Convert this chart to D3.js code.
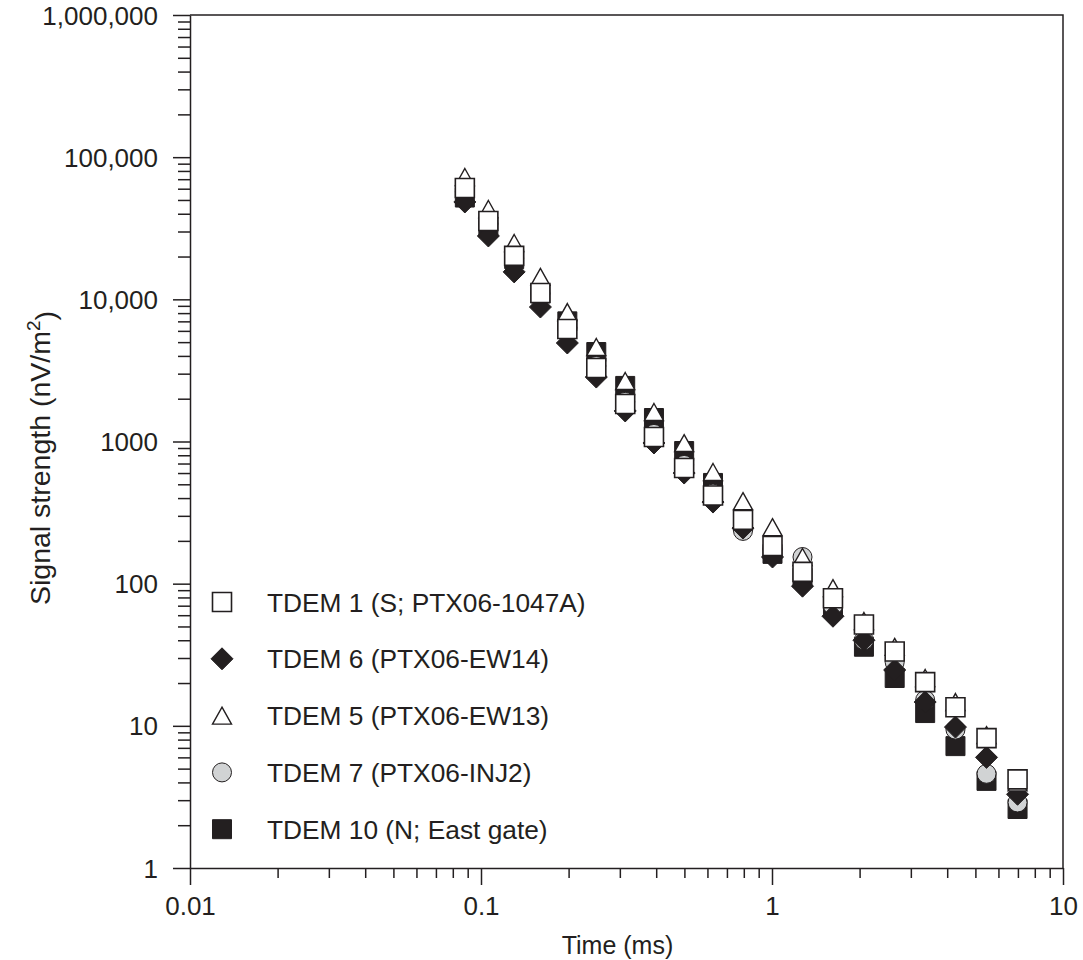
<!DOCTYPE html>
<html>
<head>
<meta charset="utf-8">
<script src="https://cdnjs.cloudflare.com/ajax/libs/d3/7.8.5/d3.min.js"></script>
<style>
  html, body { margin: 0; padding: 0; background: #fff; }
  svg { display: block; font-family: "Liberation Sans", Arial, Helvetica, sans-serif; }
</style>
</head>
<body>
<svg id="chart" width="1083" height="960"></svg>
<script>
// ---- data ----
const times = [0.088, 0.106, 0.130, 0.160, 0.198, 0.249, 0.313, 0.393, 0.499, 0.627,
               0.795, 1.004, 1.273, 1.62, 2.07, 2.64, 3.36, 4.27, 5.46, 6.98];
const tdem1  = [60700, 35600, 20200, 11070, 6190, 3290, 1835, 1075, 651, 417,
                281, 184, 121, 79, 51.6, 33.3, 20.3, 13.5, 8.2, 4.2];
const tdem6  = [48400, 27900, 15600, 8830, 4930, 2840, 1640, 976, 600, 375,
                246, 154, 96, 59, 40, 24.7, 14.7, 9.8, 6.0, 3.3];
const tdem5  = [72500, 43200, 24900, 14400, 8140, 4620, 2665, 1612, 975, 610,
                381, 250, 154, 93, 54.6, 35.9, 21.7, 14.7, 8.6, 4.0];
const tdem7  = [57000, 34000, 19500, 11000, 6300, 3400, 1900, 1130, 684, 430,
                235, 175, 154, 70, 40, 28, 15.2, 9.4, 4.6, 2.89];
const tdem10 = [52000, 32000, 19200, 11000, 7000, 4260, 2460, 1463, 857, 511,
                275, 162, 110, 68.5, 36, 21.7, 12.3, 7.2, 4.1, 2.6];

const seriesNames = ["TDEM 1 (S; PTX06-1047A)", "TDEM 6 (PTX06-EW14)", "TDEM 5 (PTX06-EW13)",
                     "TDEM 7 (PTX06-INJ2)", "TDEM 10 (N; East gate)"];
const xTickValues = [0.01, 0.1, 1, 10];
const xTickLabels = ["0.01", "0.1", "1", "10"];
const yTickValues = [1, 10, 100, 1000, 10000, 100000, 1000000];
const yTickLabels = ["1", "10", "100", "1000", "10,000", "100,000", "1,000,000"];
const xTitle = "Time (ms)";
const yTitle = "Signal strength (nV/m";

// ---- layout ----
const ink = "#231f20";
const mLeft = 190, mRight = 1063, mTop = 15, mBottom = 868;
const svg = d3.select("#chart");

const x = d3.scaleLog().domain([0.01, 10]).range([mLeft, mRight]);
const y = d3.scaleLog().domain([1, 1000000]).range([mBottom, mTop]);

function minorTicks(domain) {
  const out = [];
  for (let d = domain[0]; d < domain[1] * 0.999; d *= 10) {
    for (let k = 2; k <= 9; k++) out.push(d * k);
  }
  return out;
}

// minor ticks
svg.append("g").attr("transform", `translate(0,${mBottom})`)
  .call(d3.axisBottom(x).tickValues(minorTicks([0.01, 10])).tickSize(10).tickSizeOuter(0).tickFormat(""))
  .call(g => g.select(".domain").remove());
svg.append("g").attr("transform", `translate(${mLeft},0)`)
  .call(d3.axisLeft(y).tickValues(minorTicks([1, 1000000])).tickSize(12).tickSizeOuter(0).tickFormat(""))
  .call(g => g.select(".domain").remove());

// major ticks + labels
const xAxis = svg.append("g").attr("transform", `translate(0,${mBottom})`)
  .call(d3.axisBottom(x).tickValues(xTickValues).tickSize(17).tickSizeOuter(0)
        .tickFormat((d, i) => xTickLabels[i]));
const yAxis = svg.append("g").attr("transform", `translate(${mLeft},0)`)
  .call(d3.axisLeft(y).tickValues(yTickValues).tickSize(17).tickSizeOuter(0)
        .tickFormat((d, i) => yTickLabels[i]));

[xAxis, yAxis].forEach(g => {
  g.select(".domain").attr("stroke", ink).attr("stroke-width", 1.5);
  g.selectAll("text").attr("fill", ink).style("font-size", "26px")
    .style("font-family", '"Liberation Sans", Arial, sans-serif');
});
xAxis.selectAll("text").attr("y", 47).attr("dy", "0");
yAxis.selectAll("text").attr("x", -32).attr("dy", "0.35em");
svg.selectAll("g.tick line").attr("stroke", ink).attr("stroke-width", 1.5);

// frame (top + right)
svg.append("path")
  .attr("d", `M${mLeft},${mTop}H${mRight}V${mBottom}`)
  .attr("fill", "none").attr("stroke", ink).attr("stroke-width", 1.5);

// axis titles
svg.append("text")
  .attr("x", (mLeft + mRight) / 2 - 9).attr("y", 954)
  .attr("text-anchor", "middle").attr("fill", ink)
  .style("font-size", "25px").text(xTitle);

const yt = svg.append("text")
  .attr("transform", `translate(50,458) rotate(-90)`)
  .attr("text-anchor", "middle").attr("fill", ink)
  .style("font-size", "28.5px");
yt.append("tspan").text(yTitle);
yt.append("tspan").attr("dy", "-0.55em").style("font-size", "19px").text("2");
yt.append("tspan").attr("dy", "0.55em").text(")");

// ---- markers ----
const shapes = {
  square: "M-9.5,-9.5H9.5V9.5H-9.5Z",
  diamond: "M0,-11L11,0L0,11L-11,0Z",
  triangle: "M0,-8.5L9.5,8.5L-9.5,8.5Z",
  circle: d3.symbol(d3.symbolCircle, Math.PI * 9.5 * 9.5)()
};
const styles = [
  { vals: tdem1,  shape: "square",   fill: "#ffffff", stroke: ink, sw: 1.6 },
  { vals: tdem6,  shape: "diamond",  fill: ink,       stroke: ink, sw: 1 },
  { vals: tdem5,  shape: "triangle", fill: "#ffffff", stroke: ink, sw: 1.4 },
  { vals: tdem7,  shape: "circle",   fill: "#d1d3d4", stroke: ink, sw: 1 },
  { vals: tdem10, shape: "square",   fill: ink,       stroke: ink, sw: 1 }
];

// draw bottom-most first (TDEM 10) so TDEM 1 ends up on top
const drawOrder = [4, 3, 1, 2, 0];
drawOrder.forEach(si => {
  const s = styles[si];
  svg.append("g").selectAll("path")
    .data(times.map((t, i) => ({ t, v: s.vals[i] })))
    .join("path")
    .attr("d", shapes[s.shape])
    .attr("transform", d => `translate(${x(d.t)},${y(d.v)})`)
    .attr("fill", s.fill).attr("stroke", s.stroke).attr("stroke-width", s.sw);
});

// ---- legend ----
const legendY0 = 602, legendStep = 56.8;
const lg = svg.append("g");
seriesNames.forEach((name, i) => {
  const s = styles[i];
  const cy = legendY0 + i * legendStep;
  lg.append("path").attr("d", shapes[s.shape])
    .attr("transform", `translate(222,${cy})`)
    .attr("fill", s.fill).attr("stroke", s.stroke).attr("stroke-width", s.sw);
  lg.append("text").attr("x", 267).attr("y", cy + 9.5)
    .attr("fill", ink).style("font-size", "26.3px").text(name);
});
</script>
</body>
</html>
